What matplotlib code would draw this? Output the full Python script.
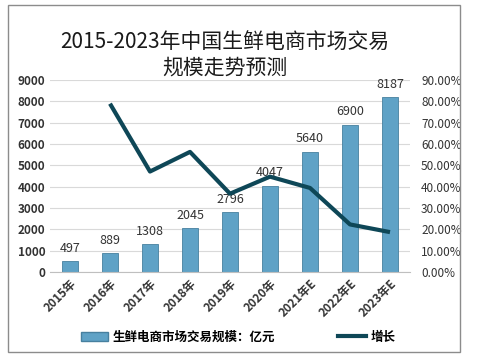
import matplotlib.pyplot as plt
from matplotlib.patches import Rectangle
from matplotlib.lines import Line2D
from matplotlib.ticker import FuncFormatter

plt.rcParams['font.family'] = ['Noto Sans CJK SC', 'DejaVu Sans']

years = ['2015年', '2016年', '2017年', '2018年', '2019年', '2020年',
         '2021年E', '2022年E', '2023年E']
scale = [497, 889, 1308, 2045, 2796, 4047, 5640, 6900, 8187]
growth = [None, 78.9, 47.1, 56.3, 36.7, 44.7, 39.4, 22.3, 18.7]

fig = plt.figure(figsize=(4.84, 3.6), dpi=100)
fig.patch.set_facecolor('white')

# outer border of the chart
fig.patches.append(Rectangle((8 / 484, 1 - 352 / 360), 452 / 484, 347 / 360,
                             transform=fig.transFigure, fill=False,
                             edgecolor='#8c8c8c', linewidth=1))

ax = fig.add_axes([50 / 484, 1 - 272 / 360, 360 / 484, 192 / 360])
x = list(range(len(years)))

ax.bar(x, scale, width=0.42, color='#5fa2c6', edgecolor='#47809f',
       linewidth=0.6, zorder=2)
for xi, v in zip(x, scale):
    ax.text(xi, v + 300, str(v), ha='center', va='bottom', fontsize=9,
            color='#333333', zorder=4)

ax.set_xlim(-0.5, len(years) - 0.5)
ax.set_ylim(0, 9000)
ax.set_yticks(range(0, 9001, 1000))
ax.grid(axis='y', color='#d9d9d9', linewidth=0.8, zorder=0)
for s in ['top', 'left', 'right']:
    ax.spines[s].set_visible(False)
ax.spines['bottom'].set_color('#bfbfbf')
ax.tick_params(axis='both', length=0, labelsize=8.5, colors='#333333')
for lbl in ax.get_yticklabels():
    lbl.set_fontweight('bold')
ax.set_xticks(x)
ax.set_xticklabels(years, rotation=45, ha='right', rotation_mode='anchor',
                   fontsize=8.5, fontweight='bold')

ax2 = ax.twinx()
gx = [xi for xi, g in zip(x, growth) if g is not None]
gy = [g for g in growth if g is not None]
ax2.plot(gx, gy, color='#0e4757', linewidth=3, solid_joinstyle='round',
         solid_capstyle='butt', zorder=5)
ax2.set_ylim(0, 90)
ax2.set_yticks(range(0, 91, 10))
ax2.yaxis.set_major_formatter(FuncFormatter(lambda v, p: '%.2f%%' % v))
ax2.tick_params(axis='y', length=0, labelsize=8.5, colors='#333333', pad=8)
for s in ax2.spines.values():
    s.set_visible(False)

fig.text(225 / 484, 1 - 42 / 360, '2015-2023年中国生鲜电商市场交易',
         ha='center', va='center', fontsize=15, fontweight='medium', color='#1a1a1a')
fig.text(225 / 484, 1 - 68 / 360, '规模走势预测',
         ha='center', va='center', fontsize=15, fontweight='medium', color='#1a1a1a')

handles = [Rectangle((0, 0), 1, 1, facecolor='#5fa2c6', edgecolor='#47809f'),
           Line2D([0], [0], color='#0e4757', linewidth=3)]
fig.legend(handles, ['生鲜电商市场交易规模：亿元', '增长'], loc='center',
           bbox_to_anchor=(238 / 484, 1 - 337 / 360), ncol=2, frameon=False,
           prop={'size': 9, 'weight': 'bold'}, columnspacing=5,
           handlelength=2.2, handletextpad=0.4)

fig.savefig('out.png', dpi=100)
